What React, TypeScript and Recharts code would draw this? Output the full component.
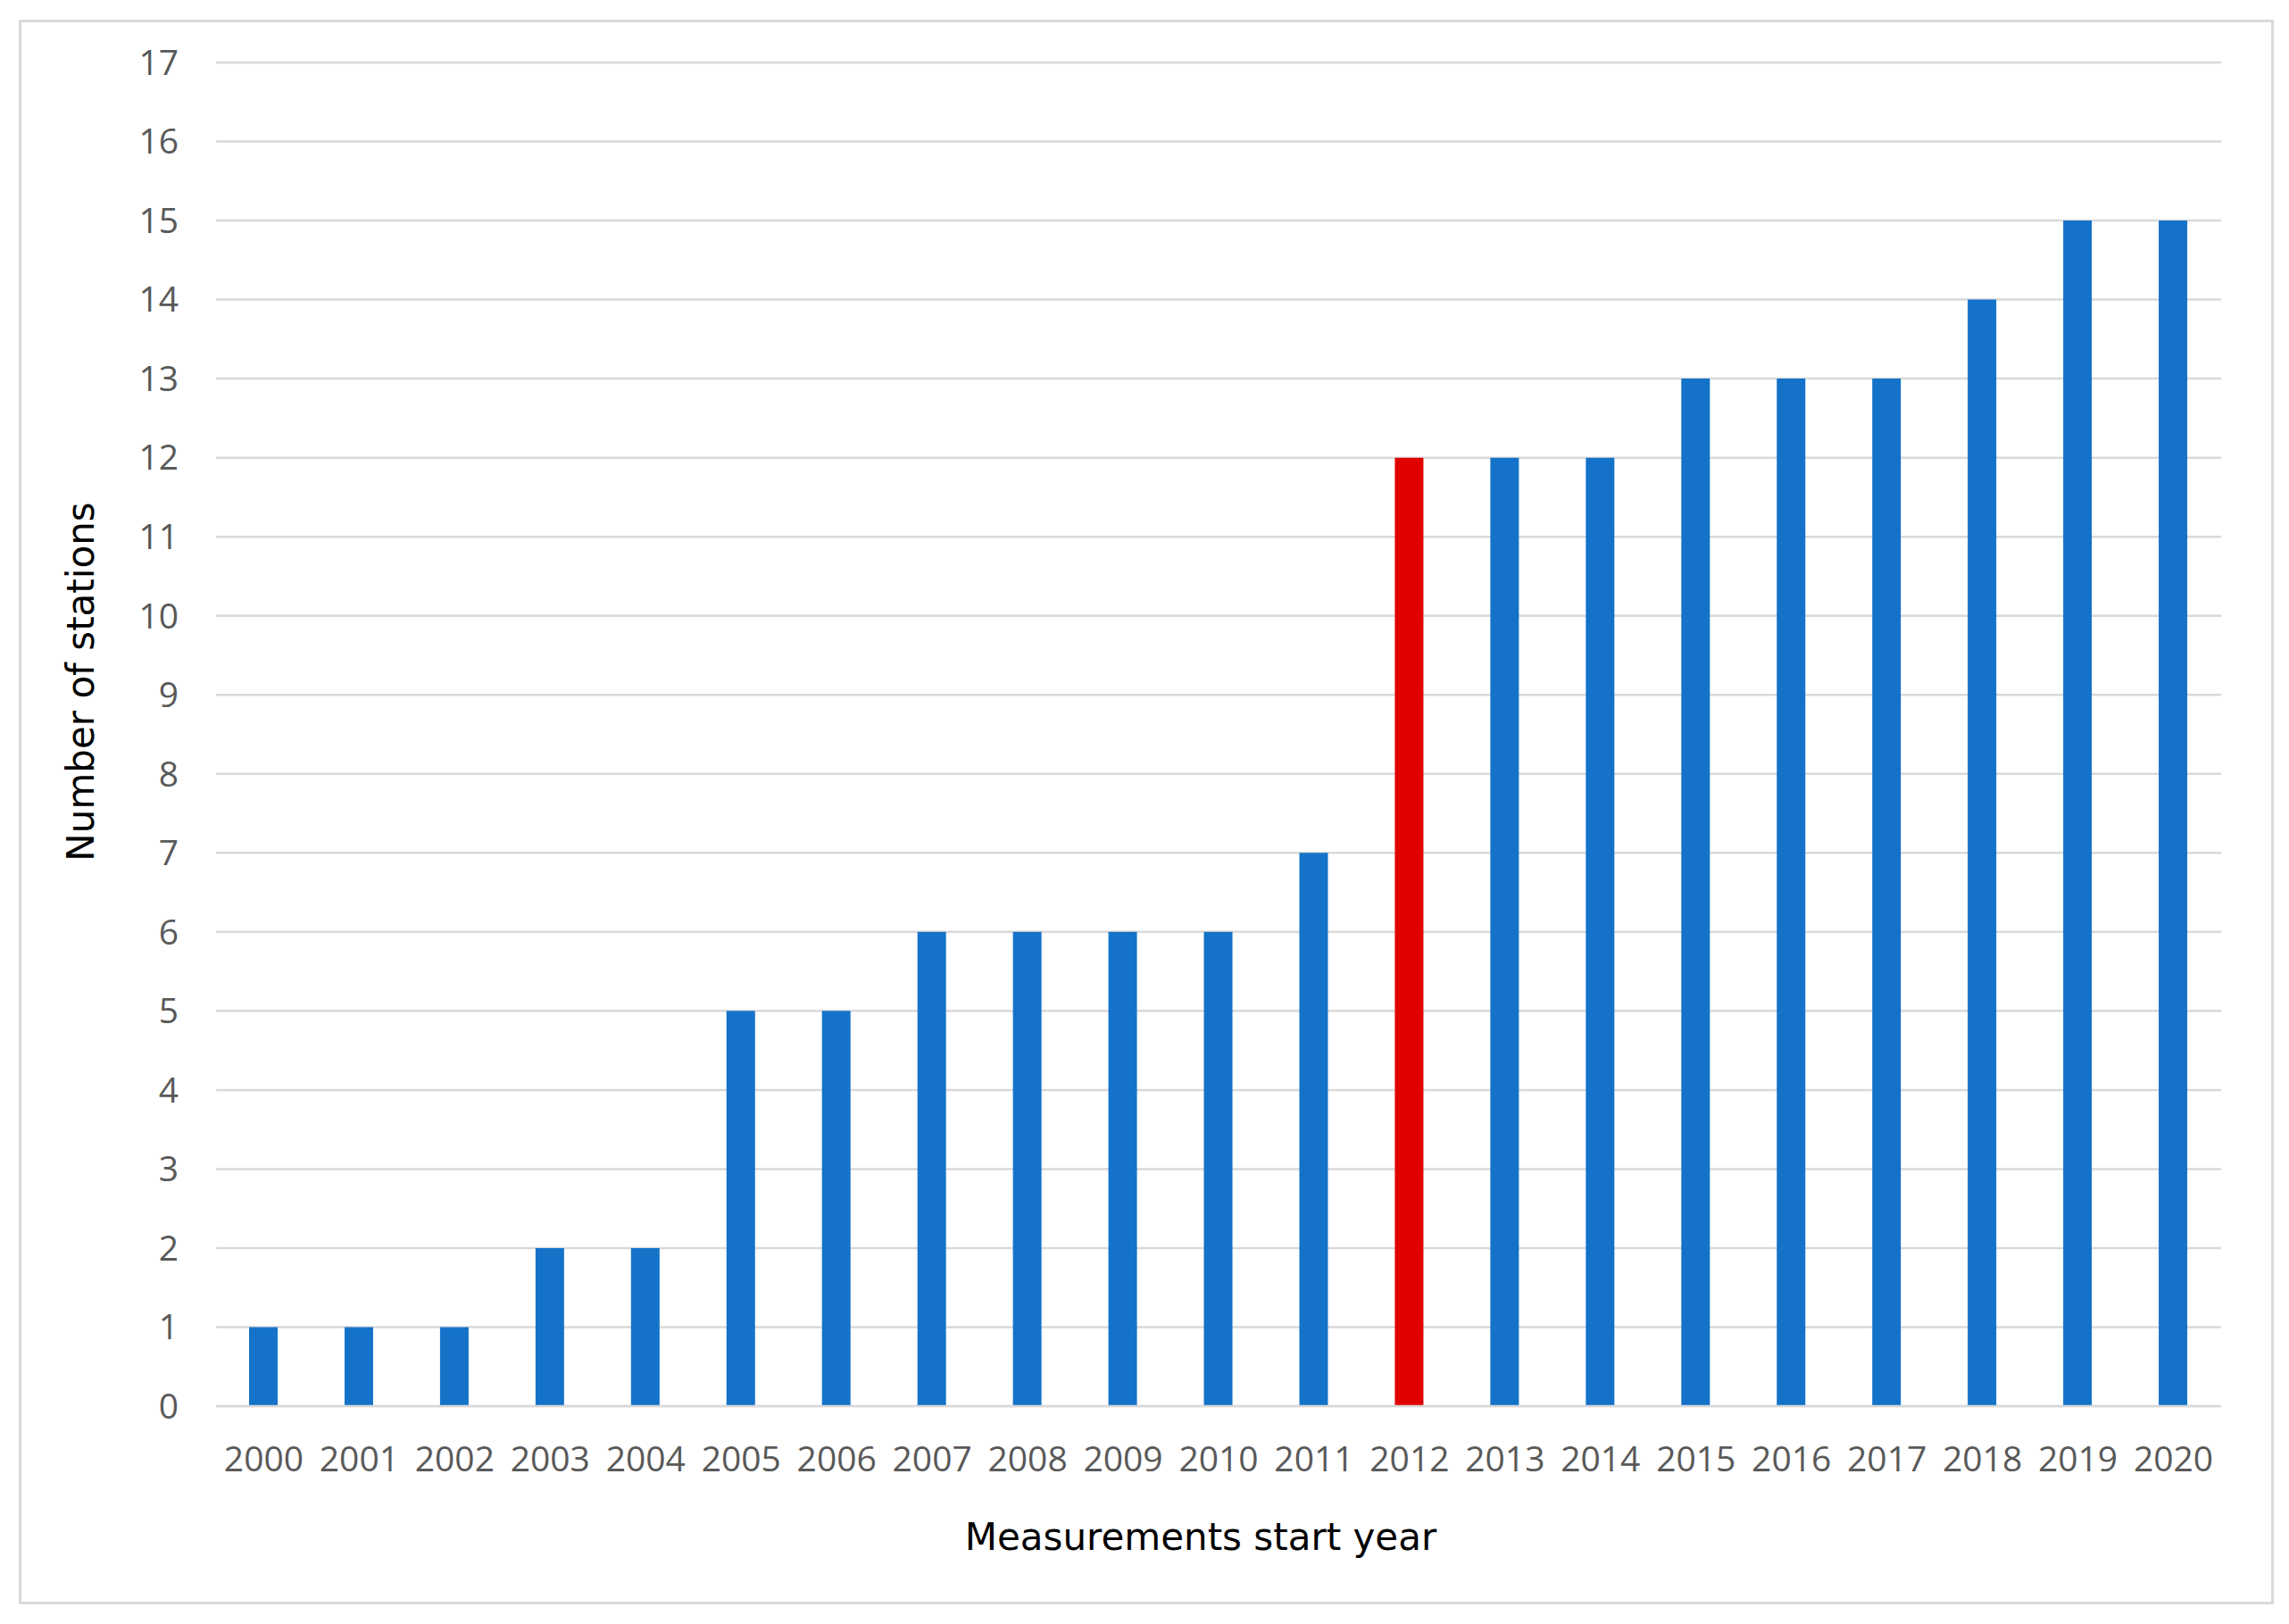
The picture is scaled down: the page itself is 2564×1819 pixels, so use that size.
import { Bar, BarChart, CartesianGrid, Cell, Label, XAxis, YAxis } from 'recharts';

const YEARS = [
  '2000', '2001', '2002', '2003', '2004', '2005', '2006', '2007', '2008', '2009', '2010',
  '2011', '2012', '2013', '2014', '2015', '2016', '2017', '2018', '2019', '2020',
];
const STATIONS = [1, 1, 1, 2, 2, 5, 5, 6, 6, 6, 6, 7, 12, 12, 12, 13, 13, 13, 14, 15, 15];
const HIGHLIGHT_YEAR = '2012';
const Y_TICKS = [0, 1, 2, 3, 4, 5, 6, 7, 8, 9, 10, 11, 12, 13, 14, 15, 16, 17];

const BLUE = '#1473C9';
const RED = '#E00000';
const GRID = '#D9D9D9';
const TICK = '#595959';

const TICK_FONT = { fontFamily: '"Open Sans", sans-serif', fontSize: 39, fill: TICK };
const TITLE_FONT = '"DejaVu Sans", Verdana, sans-serif';

const data = YEARS.map((year, i) => ({ year, stations: STATIONS[i] }));

function YTitle(props: any) {
  const vb = props.viewBox ?? { x: 0, y: 0, width: 0, height: 0 };
  const cx = vb.x + 82;
  const cy = vb.y + vb.height / 2 - 59;
  return (
    <text
      x={cx}
      y={cy}
      transform={`rotate(-90 ${cx} ${cy})`}
      textAnchor="middle"
      dominantBaseline="central"
      fontFamily={TITLE_FONT}
      fontSize={42}
      fill="#000"
    >
      Number of stations
    </text>
  );
}

function XTitle(props: any) {
  const vb = props.viewBox ?? { x: 0, y: 0, width: 0, height: 0 };
  return (
    <text
      x={vb.x + vb.width / 2 - 20}
      y={vb.y + 161}
      textAnchor="middle"
      fontFamily={TITLE_FONT}
      fontSize={42}
      fill="#000"
    >
      Measurements start year
    </text>
  );
}

export default function App() {
  return (
    <div style={{ position: 'relative', width: 2548, height: 1803 }}>
      <div
        style={{
          position: 'absolute',
          left: 13,
          top: 14,
          width: 2520,
          height: 1769,
          border: `3px solid ${GRID}`,
        }}
      />
      <div style={{ position: 'absolute', left: 0, top: 0 }}>
        <BarChart
          width={2548}
          height={1803}
          data={data}
          margin={{ top: 62, right: 68, left: 0, bottom: 0 }}
        >
          <CartesianGrid vertical={false} stroke={GRID} strokeWidth={2.5} />
          <XAxis
            dataKey="year"
            height={236}
            tickLine={false}
            axisLine={{ stroke: GRID, strokeWidth: 2.5 }}
            tickSize={0}
            tickMargin={45}
            tick={TICK_FONT}
            interval={0}
          >
            <Label content={XTitle} />
          </XAxis>
          <YAxis
            width={234}
            domain={[0, 17]}
            ticks={Y_TICKS}
            interval={0}
            tickLine={false}
            axisLine={false}
            tickSize={0}
            tickMargin={42}
            tick={TICK_FONT}
          >
            <Label content={YTitle} />
          </YAxis>
          <Bar dataKey="stations" barSize={32} isAnimationActive={false}>
            {data.map((d) => (
              <Cell key={d.year} fill={d.year === HIGHLIGHT_YEAR ? RED : BLUE} />
            ))}
          </Bar>
        </BarChart>
      </div>
    </div>
  );
}
